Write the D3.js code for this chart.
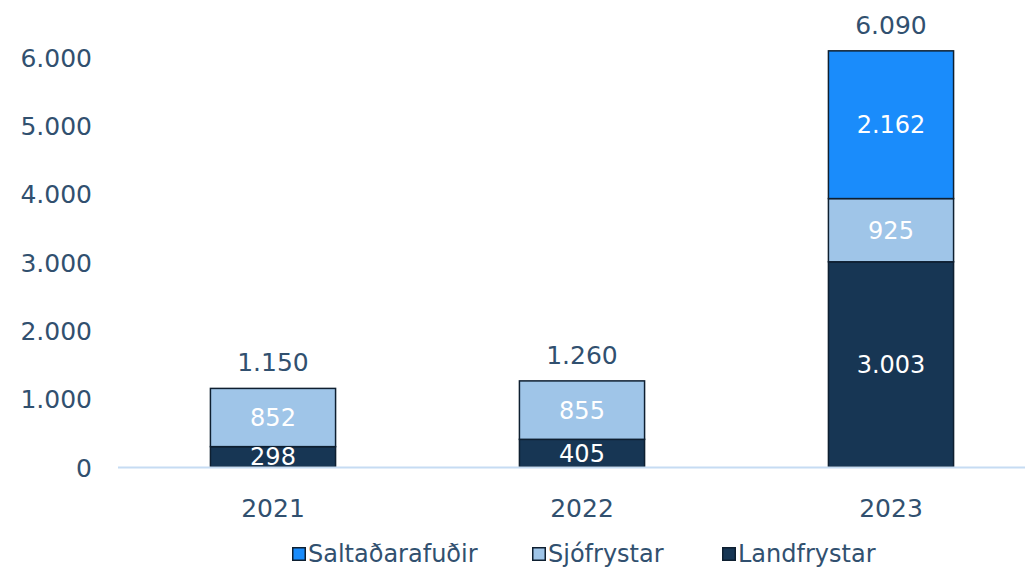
<!DOCTYPE html>
<html><head><meta charset="utf-8">
<script src="https://cdn.jsdelivr.net/npm/d3@7"></script>
<style>body{margin:0;background:#fff}svg{display:block}text{font-family:"DejaVu Sans",Verdana,sans-serif}</style>
</head><body><svg id="c" width="1025" height="568"></svg>
<script>
const years = ["2021","2022","2023"];
const landfrystar = [298, 405, 3003];
const sjofrystar = [852, 855, 925];
const saltadarafudir = [0, 0, 2162];
const totals = [1150, 1260, 6090];
const yTicks = [0,1000,2000,3000,4000,5000,6000];
const seriesNames = ["Landfrystar","Sjófrystar","Saltaðarafuðir"];
const legendOrder = ["Saltaðarafuðir","Sjófrystar","Landfrystar"];
const colors = {"Landfrystar":"#173654","Sjófrystar":"#9fc5e8","Saltaðarafuðir":"#1a8cfb"};
const textColor = "#31506f";

const svg = d3.select("#c");
const x = d3.scaleBand().domain(years).range([118.5,1045.5]).paddingInner(0.595).paddingOuter(0.2975);
const y = d3.scaleLinear().domain([0,6000]).range([467,57]);
const fmt = v => d3.format(",")(v).replace(/,/g,".");

const yAxis = d3.axisLeft(y).tickValues(yTicks).tickFormat(fmt).tickSize(0).tickPadding(0);
const ga = svg.append("g").attr("transform","translate(92,0)").call(yAxis);
ga.select(".domain").remove();
ga.selectAll("text").attr("font-size",25).attr("fill",textColor).attr("font-family","DejaVu Sans, Verdana, sans-serif").attr("dy","0.36em");

const data = years.map((yr,i)=>({year:yr, Landfrystar:landfrystar[i], "Sjófrystar":sjofrystar[i], "Saltaðarafuðir":saltadarafudir[i]}));
const stack = d3.stack().keys(seriesNames)(data);

stack.forEach(s=>{
  const g = svg.append("g");
  s.forEach(d=>{
    const v = d[1]-d[0];
    if(v<=0) return;
    g.append("rect").attr("x",x(d.data.year)).attr("width",x.bandwidth())
      .attr("y",y(d[1])).attr("height",y(d[0])-y(d[1]))
      .attr("fill",colors[s.key]).attr("stroke","#0e1f30").attr("stroke-width",1.5);
  });
});
svg.append("line").attr("x1",118).attr("x2",1025).attr("y1",y(0)+0.5).attr("y2",y(0)+0.5).attr("stroke","#c6dcf3").attr("stroke-width",2);

stack.forEach(s=>{
  s.forEach(d=>{
    const v = d[1]-d[0];
    if(v<=0) return;
    svg.append("text").attr("x",x(d.data.year)+x.bandwidth()/2).attr("y",(y(d[0])+y(d[1]))/2)
      .attr("dy","0.36em").attr("text-anchor","middle").attr("font-size",24).attr("fill","#fff").text(fmt(v));
  });
});
years.forEach((yr,i)=>{
  svg.append("text").attr("x",x(yr)+x.bandwidth()/2).attr("y",y(totals[i])-26).attr("dy","0.36em")
    .attr("text-anchor","middle").attr("font-size",25).attr("fill",textColor).text(fmt(totals[i]));
});
const xAxis = d3.axisBottom(x).tickSize(0).tickPadding(0);
const gx = svg.append("g").attr("transform","translate(0,508)").call(xAxis);
gx.select(".domain").remove();
gx.selectAll("text").attr("font-size",25).attr("fill",textColor).attr("font-family","DejaVu Sans, Verdana, sans-serif").attr("dy","0.36em");

const legX = [292, 532, 722];
legendOrder.forEach((k,i)=>{
  svg.append("rect").attr("x",legX[i]+0.75).attr("y",547.75).attr("width",12.5).attr("height",12.5)
    .attr("fill",colors[k]).attr("stroke","#0e1f30").attr("stroke-width",1.5);
  svg.append("text").attr("x",legX[i]+16).attr("y",553).attr("dy","0.36em").attr("font-size",24)
    .attr("fill",textColor).text(k);
});
</script></body></html>
